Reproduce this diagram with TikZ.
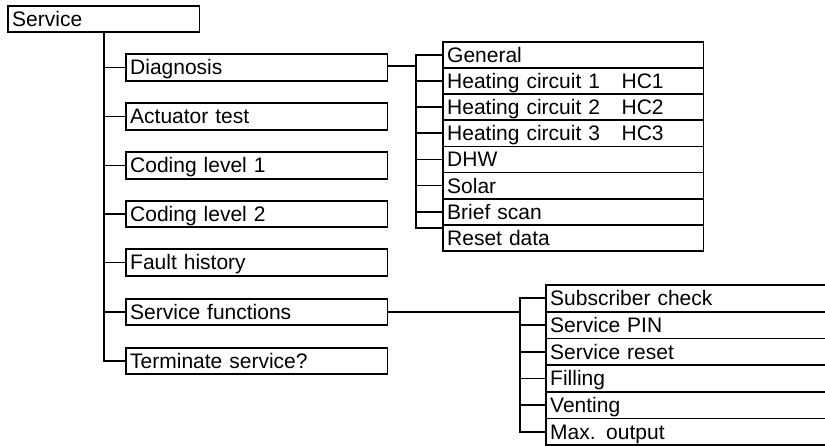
\documentclass[tikz,border=0pt]{standalone}
\usepackage{fontspec}
\setmainfont{Liberation Sans}
\begin{document}
\begin{tikzpicture}[x=1pt,y=-1pt,line width=1.8pt,
  box/.style={draw, line width=1.8pt, anchor=west, inner xsep=4.3pt, inner ysep=0pt,
    text width=#1, align=left, minimum height=26.5pt, text height=14.9pt, text depth=0pt,
    font=\fontsize{21}{25}\selectfont},
  drow/.style={box=252pt, minimum height=26.1pt},
  srow/.style={box=291pt, minimum height=26.7pt},
  conn/.style={draw, line width=1.8pt}]
\useasboundingbox (0,0) rectangle (825,445);
\clip (0,0) rectangle (825,445);
% main column
\node[box=183pt] (svc) at (7,19) {Service};
\node[box=253pt] (diag) at (125,67.5) {Diagnosis};
\node[box=253pt] (act) at (125,116.5) {Actuator test};
\node[box=253pt] (cl1) at (125,165.5) {Coding level 1};
\node[box=253pt] (cl2) at (125,214) {Coding level 2};
\node[box=253pt] (fh) at (125,262.5) {Fault history};
\node[box=253pt] (sf) at (125,312) {Service functions};
\node[box=253pt] (term) at (125,361) {Terminate service?};
% diagnosis list
\node[drow] (gen) at (442,55.05) {General};
\node[drow] (hc1) at (442,81.15) {\makebox[174.5pt][l]{Heating circuit 1}HC1};
\node[drow] (hc2) at (442,107.25) {\makebox[174.5pt][l]{Heating circuit 2}HC2};
\node[drow] (hc3) at (442,133.35) {\makebox[174.5pt][l]{Heating circuit 3}HC3};
\node[drow] (dhw) at (442,159.45) {DHW};
\node[drow] (sol) at (442,185.55) {Solar};
\node[drow] (bs) at (442,211.65) {Brief scan};
\node[drow] (rst) at (442,237.75) {Reset data};
% service functions list
\node[srow] (sc) at (545,298.35) {Subscriber check};
\node[srow] (pin) at (545,325.05) {Service PIN};
\node[srow] (sr) at (545,351.75) {Service reset};
\node[srow] (fil) at (545,378.45) {Filling};
\node[srow] (ven) at (545,405.15) {Venting};
\node[srow] (mo) at (545,431.85) {Max. output};
% trunk
\draw[conn] (svc.south) |- (term.west);
\foreach \n in {diag,act,cl1,cl2,fh,sf}{
  \draw[conn] (svc.south |- \n.west) -- (\n.west);
}
% diagnosis connectors
\coordinate (dj) at (416,0);
\draw[conn] ([yshift=1.5pt]diag.east) -- ([yshift=1.5pt]diag.east -| dj);
\draw[conn] (gen.west) -| ([yshift=9.7pt]rst.west -| dj) -- ([yshift=9.7pt]rst.west);
\foreach \n in {hc1,hc2,hc3,dhw,sol,bs}{
  \draw[conn] (dj |- \n.west) -- (\n.west);
}
% service functions connectors
\coordinate (sj) at (520,0);
\draw[conn] (sf.east) -- (sf.east -| sj);
\draw[conn] (sc.west) -| (sj |- mo.west) -- (mo.west);
\foreach \n in {pin,sr,fil,ven}{
  \draw[conn] (sj |- \n.west) -- (\n.west);
}
\end{tikzpicture}
\end{document}
